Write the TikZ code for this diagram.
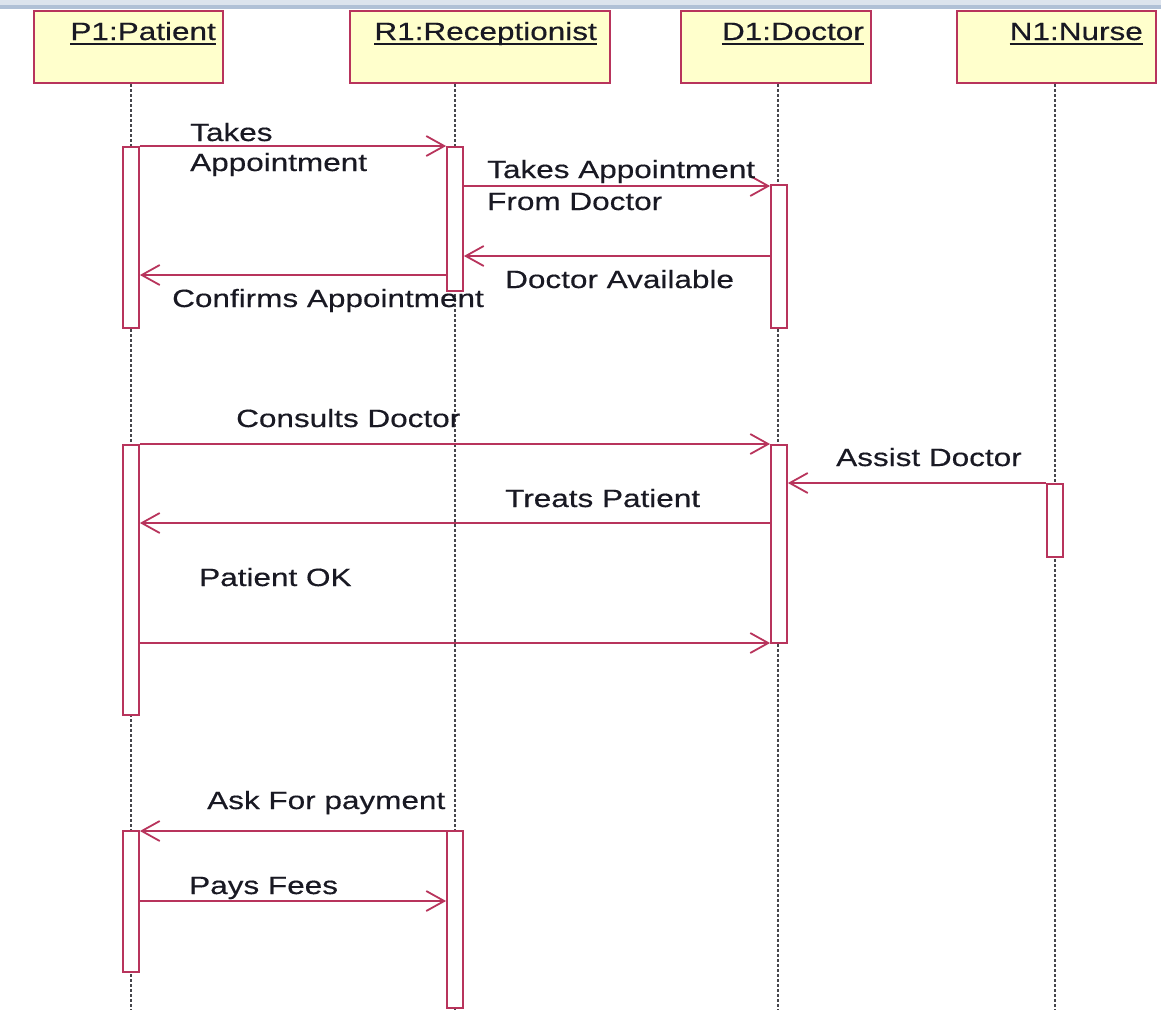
\documentclass[tikz,border=0pt]{standalone}
\usepackage{fontspec}
\setmainfont{Liberation Sans}[FakeStretch=1.26,FakeBold=0.4]
\usetikzlibrary{arrows.meta}
\definecolor{umlline}{RGB}{184,52,92}
\definecolor{umlfill}{RGB}{255,255,204}
\definecolor{lifegray}{RGB}{70,70,75}
\definecolor{topbar}{RGB}{176,192,214}
\definecolor{ink}{RGB}{25,25,35}

\begin{document}
\begin{tikzpicture}[x=1pt,y=-1pt,
  head/.style={draw=umlline, fill=umlfill, line width=2pt, minimum height=72pt,
    inner sep=0pt, anchor=north west},
  bar/.style={draw=umlline, fill=white, line width=1.8pt, minimum width=16pt, inner sep=0pt},
  msg/.style={draw=umlline, line width=1.8pt, -{Straight Barb[length=18pt,width=20pt]}},
  life/.style={draw=lifegray, line width=1.6pt, dash pattern=on 3pt off 2pt},
  lbl/.style={anchor=base west, inner sep=0pt, text=ink, font=\fontsize{25}{30}\selectfont},
  ttl/.style={anchor=base east, inner sep=0pt, text=ink, font=\fontsize{25}{30}\selectfont},
  uline/.style={draw=ink, line width=1.4pt}
]
\useasboundingbox (0,0) rectangle (1161,1010);

% window strip along the top edge
\fill[topbar!45] (0,0) rectangle (1161,5);
\fill[topbar] (0,5) rectangle (1161,9);

% lifeline axes
\coordinate (xp) at (131,0);
\coordinate (xr) at (455,0);
\coordinate (xd) at (778,0);
\coordinate (xn) at (1055,0);

% object heads
\node[head, minimum width=189pt] (p1) at (33,10) {};
\node[head, minimum width=260pt] (r1) at (349,10) {};
\node[head, minimum width=190pt] (d1) at (680,10) {};
\node[head, minimum width=199pt] (n1) at (956,10) {};

\node[ttl] (tp) at (216,40) {P1:Patient};
\node[ttl] (tr) at (597,40) {R1:Receptionist};
\node[ttl] (td) at (864,40) {D1:Doctor};
\node[ttl] (tn) at (1143,40) {N1:Nurse};
\foreach \t in {tp,tr,td,tn}
  \draw[uline] ([yshift=-4pt]\t.base west) -- ([yshift=-4pt]\t.base east);

% lifelines
\draw[life] (p1.south -| xp) -- (xp |- 0,1010);
\draw[life] (r1.south -| xr) -- (xr |- 0,1010);
\draw[life] (d1.south -| xd) -- (xd |- 0,1010);
\draw[life] (n1.south -| xn) -- (xn |- 0,1010);

% activation bars
\node[bar, minimum height=181pt] (pa1) at (xp |- 0,237.5) {};
\node[bar, minimum height=144pt] (ra1) at (xr |- 0,219) {};
\node[bar, minimum height=143pt] (da1) at (779,256.5) {};
\node[bar, minimum height=270pt] (pa2) at (xp |- 0,580) {};
\node[bar, minimum height=198pt] (da2) at (779,544) {};
\node[bar, minimum height=73pt] (na1) at (xn |- 0,520.5) {};
\node[bar, minimum height=141pt] (pa3) at (xp |- 0,901.5) {};
\node[bar, minimum height=177pt] (ra2) at (xr |- 0,919.5) {};

% messages
\draw[msg] (pa1.east |- 0,146) -- (ra1.west |- 0,146);
\draw[msg] (ra1.east |- 0,186) -- (da1.west |- 0,186);
\draw[msg] (da1.west |- 0,256) -- (ra1.east |- 0,256);
\draw[msg] (ra1.west |- 0,275) -- (pa1.east |- 0,275);
\draw[msg] (pa2.east |- 0,444) -- (da2.west |- 0,444);
\draw[msg] (na1.west |- 0,483) -- (da2.east |- 0,483);
\draw[msg] (da2.west |- 0,523) -- (pa2.east |- 0,523);
\draw[msg] (pa2.east |- 0,643) -- (da2.west |- 0,643);
\draw[msg] (ra2.west |- 0,831) -- (pa3.east |- 0,831);
\draw[msg] (pa3.east |- 0,901) -- (ra2.west |- 0,901);

% message labels
\node[lbl] (l1a) at (190,141) {Takes};
\node[lbl] (l1b) at (190,171) {Appointment};
\node[lbl] (l2a) at (487,178) {Takes Appointment};
\node[lbl] (l2b) at (487,210) {From Doctor};
\node[lbl] (l3) at (505,288) {Doctor Available};
\node[lbl] (l4) at (172,307) {Confirms Appointment};
\node[lbl] (l5) at (236,427) {Consults Doctor};
\node[lbl] (l6) at (836,466) {Assist Doctor};
\node[lbl] (l7) at (505,507) {Treats Patient};
\node[lbl] (l8) at (199,586) {Patient OK};
\node[lbl] (l9) at (207,809) {Ask For payment};
\node[lbl] (l10) at (189,894) {Pays Fees};
\end{tikzpicture}
\end{document}
